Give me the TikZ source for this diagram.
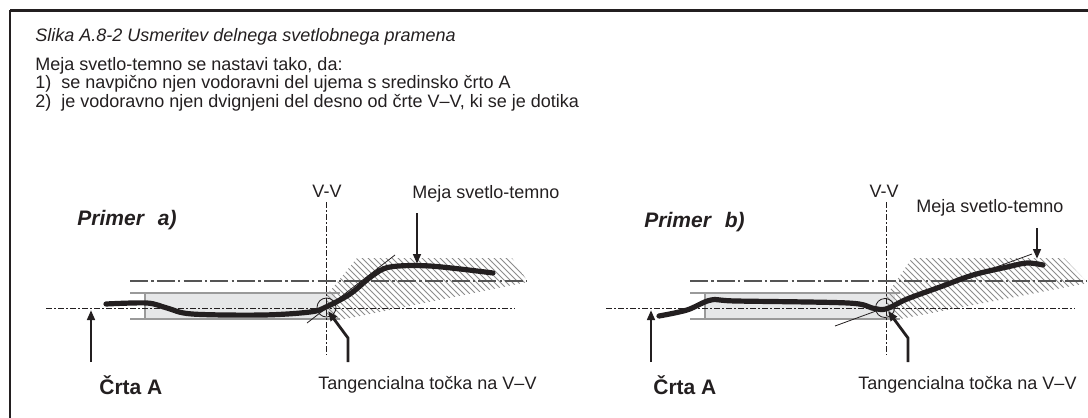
\documentclass[tikz,border=0pt]{standalone}
\usepackage{fontspec}
\setmainfont{Liberation Sans}
\usetikzlibrary{arrows.meta,patterns}
\definecolor{ink}{HTML}{231F20}
\definecolor{boxfill}{HTML}{E6E7E8}
\definecolor{boxline}{HTML}{9A9A9A}
\definecolor{hatchc}{HTML}{8C8C8C}
\definecolor{dashgray}{HTML}{555555}
\tikzset{
  txt/.style={font=\fontsize{9}{11}\selectfont, text=ink, inner sep=0pt},
  lbl/.style={font=\fontsize{9}{11}\selectfont, text=ink, inner sep=0pt},
  bigbold/.style={font=\fontsize{10.5}{12}\selectfont\bfseries, text=ink, inner sep=0pt},
  primer/.style={font=\fontsize{10.5}{12}\selectfont\bfseries\itshape, text=ink, inner sep=0pt},
  lineA/.style={draw=ink, line width=0.5pt, dash pattern=on 3pt off 1.2pt on 0.6pt off 1.2pt},
  lineU/.style={draw=dashgray, line width=0.7pt, dash pattern=on 9pt off 1.6pt on 1.2pt off 1.6pt},
  vline/.style={draw=ink, line width=0.5pt, dash pattern=on 3pt off 1.2pt on 0.6pt off 1.2pt},
  boxedge/.style={draw=boxline, line width=0.6pt},
  hatch/.style={pattern=north west lines, pattern color=hatchc},
  curve/.style={draw=ink, line width=2.6pt, line cap=round, line join=round},
  thin/.style={draw=ink, line width=0.4pt},
  pointer/.style={draw=ink, line width=1.4pt, -{Triangle[length=5pt,width=3.8pt]}},
}
\begin{document}
\begin{tikzpicture}[x=0.5pt,y=-0.5pt]
\useasboundingbox (0,0) rectangle (1088,418);
% frame
\draw[ink, line width=1.3pt] (10,10.5) -- (1088,10.5);
\draw[ink, line width=0.6pt] (10,10) -- (10,418);

% heading texts
\node[txt, anchor=base west] (title) at (35,41) {\itshape Slika A.8-2 Usmeritev delnega svetlobnega pramena};
\node[txt, anchor=base west] (intro) at (35,70) {Meja svetlo-temno se nastavi tako, da:};
\node[txt, anchor=base west] (n1) at (35,88) {1)};
\node[txt, anchor=base west] (t1) at (61,88) {se navpično njen vodoravni del ujema s sredinsko črto A};
\node[txt, anchor=base west] (n2) at (35,107) {2)};
\node[txt, anchor=base west] (t2) at (61,107) {je vodoravno njen dvignjeni del desno od črte V–V, ki se je dotika};

% ================= LEFT: Primer a) =================
\fill[boxfill] (145,293) rectangle (335,319);
\draw[boxedge] (130,293) -- (340,293);
\draw[boxedge] (130,319) -- (340,319);
\draw[boxedge] (145,293) -- (145,319);
\fill[hatch] (326,320) -- (326,296) -- (357,258) -- (512,258) -- (528,282) -- (340,320) -- cycle;
\draw[lineU] (130,281) -- (527,281);
\draw[lineA] (46,308) -- (515,308);
\draw[vline] (326.5,202) -- (326.5,355);
\draw[thin] (307,323) -- (395,255);
\draw[thin] (326.5,307.5) circle[radius=4.75pt];
\draw[curve] plot[smooth, tension=0.55] coordinates {(106,304) (147,303) (167,308) (192,314) (263,315) (310,312) (326,307) (350,294) (372,276) (390,267) (430,266) (493,273)};

\node[lbl] (vva) at (327,191) {V-V};
\node[lbl, anchor=west] (mejaa) at (412,194) {Meja svetlo-temno};
\node[primer, anchor=west] (pra) at (77,220) {Primer\hspace{7pt}a)};
\node[bigbold, anchor=west] (crtaa) at (99,385) {Črta A};
\node[lbl, anchor=west] (tanga) at (318,385) {Tangencialna točka na V–V};

\coordinate (ca0) at (91,362);
\coordinate (ca1) at (91,310);
\coordinate (ma0) at (417,213);
\coordinate (ma1) at (417,264);
\coordinate (ta0) at (348,362);
\coordinate (ta1) at (348,338);
\coordinate (ta2) at (328,311);
\draw[pointer] (ca0) -- (ca1);
\draw[pointer] (ma0) -- (ma1);
\draw[pointer] (ta0) -- (ta1) -- (ta2);

% ================= RIGHT: Primer b) =================
\fill[boxfill] (705,293) rectangle (895,319);
\draw[boxedge] (690,293) -- (900,293);
\draw[boxedge] (690,319) -- (900,319);
\draw[boxedge] (705,293) -- (705,319);
\fill[hatch] (886,320) -- (886,296) -- (912,258) -- (1064,258) -- (1088,283) -- (895,320) -- cycle;
\draw[lineU] (690,281) -- (1087,281);
\draw[lineA] (606,308) -- (1075,308);
\draw[vline] (886,202) -- (886,355);
\draw[thin] (835,326) -- (1032,254);
\draw[thin] (885,308) circle[radius=4.75pt];
\draw[curve] plot[smooth, tension=0.55] coordinates {(659,316) (687,310) (711,300) (736,301) (848,303) (872,308) (886,309) (907,299) (940,287) (973,275) (1007,267) (1027,263) (1043,265)};

\node[lbl] (vvb) at (884,191) {V-V};
\node[lbl, anchor=west] (mejab) at (916,208) {Meja svetlo-temno};
\node[primer, anchor=west] (prb) at (644,222) {Primer\hspace{7pt}b)};
\node[bigbold, anchor=west] (crtab) at (653,385) {Črta A};
\node[lbl, anchor=west] (tangb) at (858,385) {Tangencialna točka na V–V};

\coordinate (cb0) at (651,362);
\coordinate (cb1) at (651,310);
\coordinate (mb0) at (1037,228);
\coordinate (mb1) at (1037,259);
\coordinate (tb0) at (908,362);
\coordinate (tb1) at (908,338);
\coordinate (tb2) at (888,311);
\draw[pointer] (cb0) -- (cb1);
\draw[pointer] (mb0) -- (mb1);
\draw[pointer] (tb0) -- (tb1) -- (tb2);
\end{tikzpicture}
\end{document}
